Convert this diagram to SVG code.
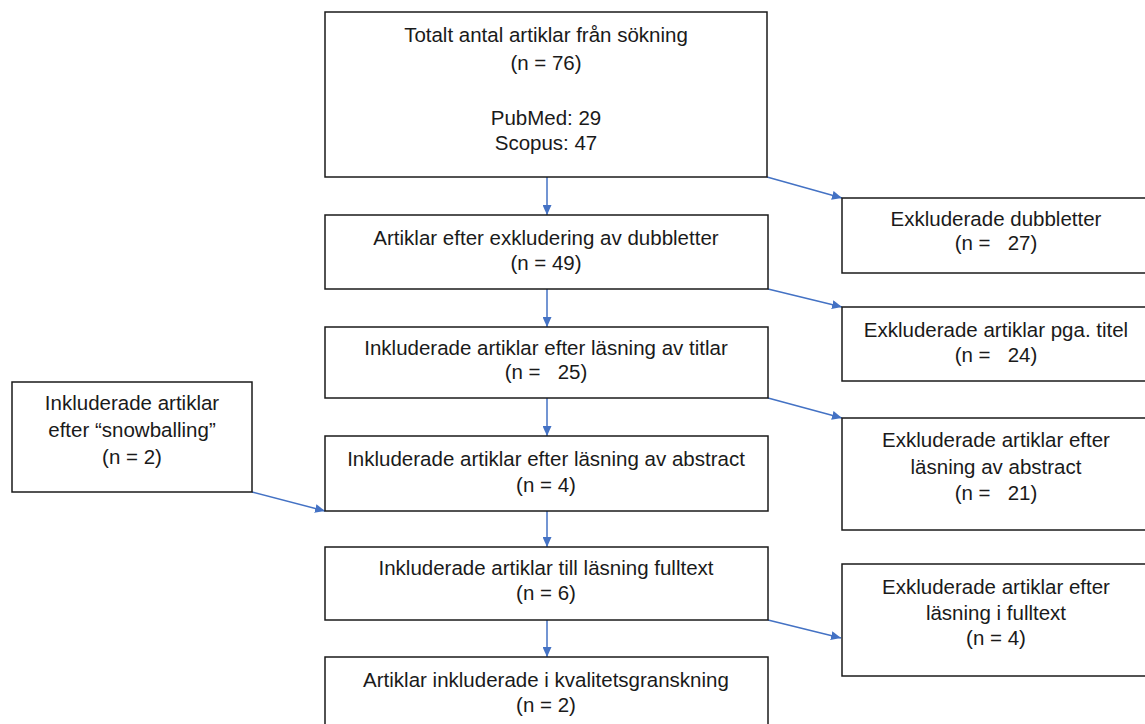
<svg xmlns="http://www.w3.org/2000/svg" width="1145" height="724" viewBox="0 0 1145 724">
<style>
.box{fill:#fff;stroke:#1a1a1a;stroke-width:1.5}
.t{font-family:"Liberation Sans",Arial,sans-serif;font-size:20.5px;fill:#1a1a1a;text-anchor:middle;white-space:pre}
.c{stroke:#4472C4;stroke-width:1.5;fill:none;marker-end:url(#ah)}
</style>
<defs>
<marker id="ah" viewBox="0 0 10 10" refX="10" refY="5" markerWidth="10" markerHeight="9" markerUnits="userSpaceOnUse" orient="auto" preserveAspectRatio="none">
<path d="M0,0 L10,5 L0,10 z" fill="#4472C4"/>
</marker>
</defs>
<rect width="1145" height="724" fill="#fff"/>
<g id="connectors">
<line class="c" x1="547" y1="177" x2="547" y2="215"/>
<line class="c" x1="547" y1="289" x2="547" y2="327"/>
<line class="c" x1="547" y1="398" x2="547" y2="436"/>
<line class="c" x1="547" y1="511" x2="547" y2="547"/>
<line class="c" x1="547" y1="620" x2="547" y2="657"/>
<line class="c" x1="767" y1="177" x2="842" y2="198"/>
<line class="c" x1="768" y1="289" x2="842" y2="307"/>
<line class="c" x1="768" y1="398" x2="842" y2="418"/>
<line class="c" x1="768" y1="620" x2="841" y2="638"/>
<line class="c" x1="252" y1="492" x2="325" y2="511"/>
</g>
<g id="n1"><rect class="box" x="325" y="12" width="442" height="165"/>
<text class="t" x="546" y="42">Totalt antal artiklar från sökning</text>
<text class="t" x="546" y="70">(n = 76)</text>
<text class="t" x="546" y="125">PubMed: 29</text>
<text class="t" x="546" y="150">Scopus: 47</text></g>
<g id="n2"><rect class="box" x="325" y="215" width="443" height="74"/>
<text class="t" x="546" y="245">Artiklar efter exkludering av dubbletter</text>
<text class="t" x="546" y="270">(n = 49)</text></g>
<g id="n3"><rect class="box" x="325" y="327" width="443" height="71"/>
<text class="t" x="546" y="355">Inkluderade artiklar efter läsning av titlar</text>
<text class="t" x="546" y="379">(n =   25)</text></g>
<g id="n4"><rect class="box" x="325" y="436" width="443" height="75"/>
<text class="t" x="546" y="466">Inkluderade artiklar efter läsning av abstract</text>
<text class="t" x="546" y="492">(n = 4)</text></g>
<g id="n5"><rect class="box" x="325" y="547" width="443" height="73"/>
<text class="t" x="546" y="575">Inkluderade artiklar till läsning fulltext</text>
<text class="t" x="546" y="600">(n = 6)</text></g>
<g id="n6"><rect class="box" x="325" y="657" width="443" height="80"/>
<text class="t" x="546" y="687">Artiklar inkluderade i kvalitetsgranskning</text>
<text class="t" x="546" y="712">(n = 2)</text></g>
<g id="e1"><rect class="box" x="842" y="198" width="310" height="75"/>
<text class="t" x="996" y="226">Exkluderade dubbletter</text>
<text class="t" x="996" y="250">(n =   27)</text></g>
<g id="e2"><rect class="box" x="842" y="307" width="310" height="74"/>
<text class="t" x="996" y="337">Exkluderade artiklar pga. titel</text>
<text class="t" x="996" y="362">(n =   24)</text></g>
<g id="e3"><rect class="box" x="842" y="418" width="310" height="112"/>
<text class="t" x="996" y="447">Exkluderade artiklar efter</text>
<text class="t" x="996" y="474">läsning av abstract</text>
<text class="t" x="996" y="500">(n =   21)</text></g>
<g id="e4"><rect class="box" x="842" y="564" width="310" height="112"/>
<text class="t" x="996" y="594">Exkluderade artiklar efter</text>
<text class="t" x="996" y="620">läsning i fulltext</text>
<text class="t" x="996" y="645">(n = 4)</text></g>
<g id="s1"><rect class="box" x="12" y="382" width="240" height="110"/>
<text class="t" x="132" y="410">Inkluderade artiklar</text>
<text class="t" x="132" y="437">efter “snowballing”</text>
<text class="t" x="132" y="464">(n = 2)</text></g>
</svg>
